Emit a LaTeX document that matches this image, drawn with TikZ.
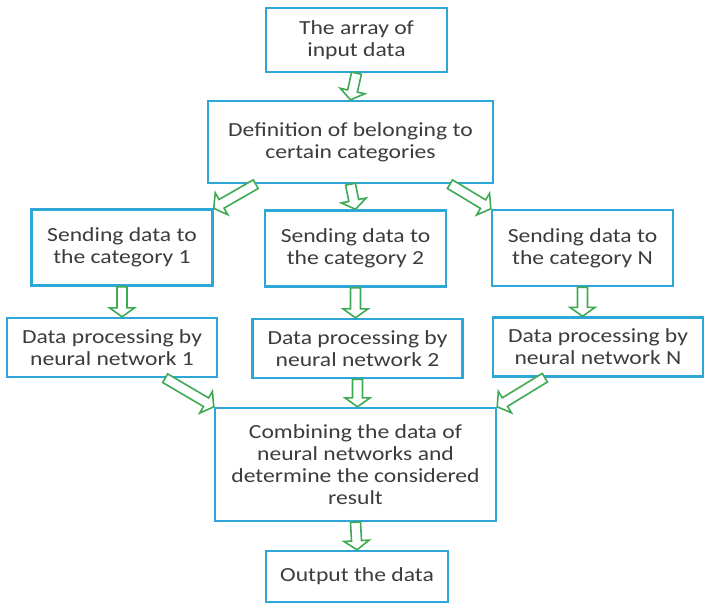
\documentclass[tikz,border=0pt]{standalone}
\usepackage{fontspec}
\setmainfont[FakeStretch=1.18]{Carlito}
\usetikzlibrary{calc}
\definecolor{boxblue}{RGB}{46,166,216}
\definecolor{arrowgreen}{RGB}{62,170,84}
\definecolor{textgray}{RGB}{60,60,60}
\tikzset{
  box/.style={draw=boxblue, line width=1.2pt, fill=white, align=center, text=textgray, inner sep=1pt,
    font=\fontsize{10}{10.9}\selectfont},
  % hollow block arrow from start to target
  garrow/.style={draw=arrowgreen, line width=0.8pt, fill=white, to path={
    let \p1=(\tikztostart), \p2=(\tikztotarget),
        \n1={atan2(\y2-\y1,\x2-\x1)}, \n2={veclen(\x2-\x1,\y2-\y1)} in
    [shift={(\p1)}, rotate=\n1]
    (0pt,-2.5pt) -- ({\n2*1pt-4.5pt},-2.5pt) -- ({\n2*1pt-4.5pt},-6.3pt) -- ({\n2*1pt},0pt)
    -- ({\n2*1pt-4.5pt},6.3pt) -- ({\n2*1pt-4.5pt},2.5pt) -- (0pt,2.5pt) -- cycle}}
}

\begin{document}
\begin{tikzpicture}[x=0.5pt,y=-0.5pt]

\useasboundingbox (0,0) rectangle (705,604);

% Boxes
\node[box, minimum width=90.5pt, minimum height=32pt] (input) at (356.5,40) {The array of\\input data};
\node[box, minimum width=142.5pt, minimum height=41pt] (define) at (350.5,142) {Definition of belonging to\\certain categories};

\node[box, minimum width=90.5pt, minimum height=38pt] (cat1) at (122,247.5) {Sending data to\\the category 1};
\node[box, minimum width=90.5pt, minimum height=38pt] (cat2) at (355.5,248.5) {Sending data to\\the category 2};
\node[box, minimum width=90.5pt, minimum height=38pt] (catN) at (582.5,248) {Sending data to\\the category N};

\node[box, minimum width=105pt, minimum height=29.5pt] (net1) at (112,347.5) {Data processing by\\neural network 1};
\node[box, minimum width=105pt, minimum height=29.5pt] (net2) at (357.5,348.5) {Data processing by\\neural network 2};
\node[box, minimum width=105pt, minimum height=29.5pt] (netN) at (598,347) {Data processing by\\neural network N};

\node[box, minimum width=140.5pt, minimum height=56.5pt] (combine) at (355.5,464.5) {Combining the data of\\neural networks and\\determine the considered\\result};
\node[box, minimum width=91pt, minimum height=25.5pt] (output) at (357,576.5) {Output the data};

% Arrows
\draw[garrow] (input.south) to (define.north);
\draw[garrow] (define.204) to (cat1.north east);
\draw[garrow] (define.south) to (cat2.north);
\draw[garrow] (define.337) to (catN.north west);

\draw[garrow] (cat1.south) to (cat1.south |- net1.north);
\draw[garrow] (cat2.south) to (cat2.south |- net2.north);
\draw[garrow] (catN.south) to (catN.south |- netN.north);

\draw[garrow] (net1.330) to (combine.north west);
\draw[garrow] (net2.south) to (combine.north -| net2.south);
\draw[garrow] (netN.210) to (combine.north east);

\draw[garrow] (combine.south) to (output.north);

\end{tikzpicture}
\end{document}
